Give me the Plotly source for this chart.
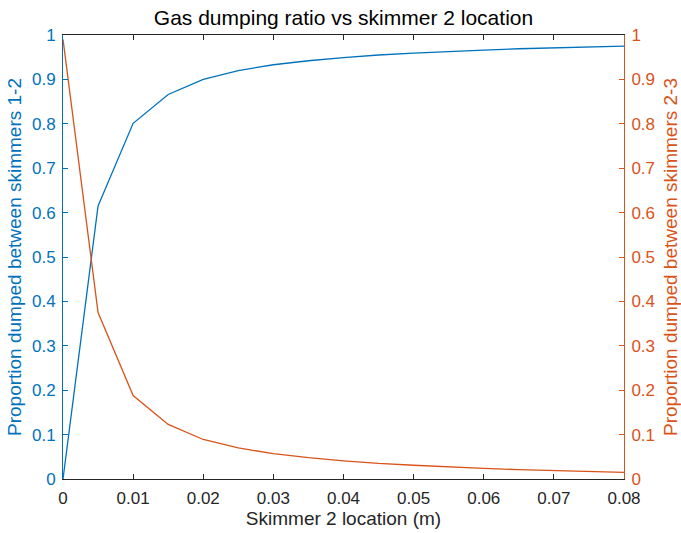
import plotly.graph_objects as go

x_loc = [0, 0.005, 0.01, 0.015, 0.02, 0.025, 0.03, 0.035, 0.04, 0.045, 0.05,
         0.055, 0.06, 0.065, 0.07, 0.075, 0.08]
prop_12 = [0.0, 0.615, 0.801, 0.866, 0.900, 0.920, 0.933, 0.942, 0.949, 0.955,
           0.959, 0.963, 0.966, 0.969, 0.971, 0.973, 0.975]
prop_23 = [0.99, 0.375, 0.188, 0.123, 0.089, 0.070, 0.057, 0.048, 0.041, 0.035,
           0.031, 0.027, 0.024, 0.021, 0.019, 0.017, 0.015]
x_ticks = [0, 0.01, 0.02, 0.03, 0.04, 0.05, 0.06, 0.07, 0.08]
x_ticktext = ["0", "0.01", "0.02", "0.03", "0.04", "0.05", "0.06", "0.07", "0.08"]
y_ticks = [0, 0.1, 0.2, 0.3, 0.4, 0.5, 0.6, 0.7, 0.8, 0.9, 1]
y_ticktext = ["0", "0.1", "0.2", "0.3", "0.4", "0.5", "0.6", "0.7", "0.8", "0.9", "1"]

BLUE = "#0072BD"
ORANGE = "#D95319"
DARK = "#262626"
FONT = "Liberation Sans, Arial, Helvetica, sans-serif"

fig = go.Figure()
fig.add_trace(go.Scatter(x=x_loc, y=prop_12, mode="lines",
                         line=dict(color=BLUE, width=1.3), yaxis="y"))
fig.add_trace(go.Scatter(x=x_loc, y=prop_23, mode="lines",
                         line=dict(color=ORANGE, width=1.3), yaxis="y2"))

fig.update_layout(
    width=681, height=533,
    margin=dict(l=63, r=57, t=35, b=54),
    plot_bgcolor="white", paper_bgcolor="white",
    showlegend=False,
    font=dict(family=FONT, size=17, color=DARK),
    title=dict(text="Gas dumping ratio vs skimmer 2 location",
               x=0.5, xanchor="center", xref="paper",
               y=1 - 18/533, yanchor="middle",
               font=dict(size=21, color="black")),
    xaxis=dict(range=[0, 0.08], tickvals=x_ticks, ticktext=x_ticktext,
               automargin=False,
               showgrid=False, zeroline=False,
               showline=True, linecolor=DARK, linewidth=1, mirror="ticks",
               ticks="inside", ticklen=5, tickcolor=DARK,
               ticklabelstandoff=4,
               tickfont=dict(size=17, color=DARK),
               title=dict(text="Skimmer 2 location (m)", standoff=4,
                          font=dict(size=19, color=DARK))),
    yaxis=dict(range=[0, 1], tickvals=y_ticks, ticktext=y_ticktext,
               automargin=False,
               showgrid=False, zeroline=False,
               showline=True, linecolor=BLUE, linewidth=1,
               ticks="inside", ticklen=5, tickcolor=BLUE,
               ticklabelstandoff=3,
               tickfont=dict(size=17, color=BLUE),
               title=dict(text="Proportion dumped between skimmers 1-2",
                          standoff=5, font=dict(size=19, color=BLUE))),
    yaxis2=dict(range=[0, 1], tickvals=y_ticks, ticktext=y_ticktext,
                automargin=False,
                overlaying="y", side="right",
                showgrid=False, zeroline=False,
                showline=True, linecolor=ORANGE, linewidth=1,
                ticks="inside", ticklen=5, tickcolor=ORANGE,
                ticklabelstandoff=3,
                tickfont=dict(size=17, color=ORANGE),
                title=dict(text="Proportion dumped between skimmers 2-3",
                           standoff=12, font=dict(size=19, color=ORANGE))),
)

fig.write_html("out.html")
